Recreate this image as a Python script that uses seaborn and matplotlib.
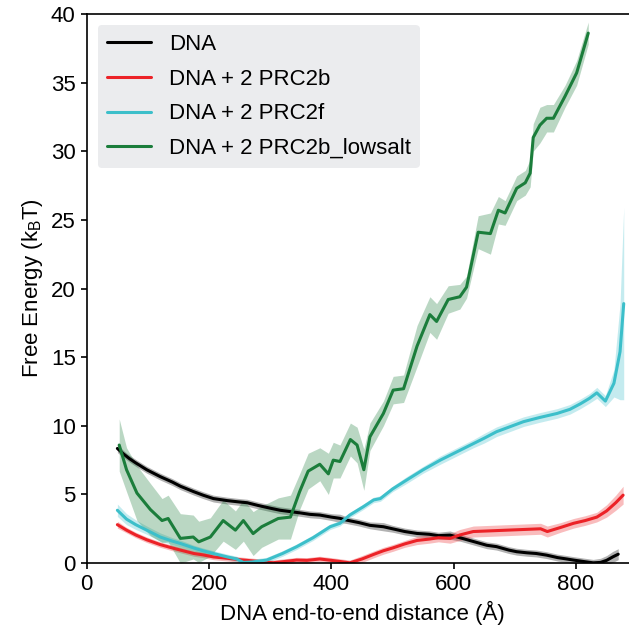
import numpy as np
import pandas as pd
import matplotlib
matplotlib.use("Agg")
import matplotlib.pyplot as plt
import seaborn as sns

# ---- data ----
dna_x = [50, 60, 70, 80, 98, 120, 140, 153, 175, 190, 207, 230, 250, 262, 280, 300, 316, 333,
         350, 365, 381, 400, 414, 425, 445, 463, 485, 500, 520, 540, 560, 575, 594, 610, 630,
         654, 670, 690, 703, 720, 735, 752, 770, 785, 796, 815, 828, 840, 850, 860, 869]
dna_y = [8.35, 7.95, 7.6, 7.3, 6.8, 6.3, 5.9, 5.6, 5.2, 4.95, 4.7, 4.55, 4.45, 4.4, 4.2, 4.0, 3.85, 3.75,
         3.65, 3.55, 3.5, 3.35, 3.26, 3.13, 2.95, 2.75, 2.65, 2.5, 2.3, 2.16, 2.1, 2.0, 2.04, 1.85, 1.6,
         1.3, 1.2, 0.95, 0.83, 0.75, 0.7, 0.58, 0.4, 0.3, 0.22, 0.1, 0.02, 0.05, 0.2, 0.45, 0.65]
dna_err = [0.3, 0.25, 0.25, 0.25, 0.25, 0.25, 0.25, 0.25, 0.25, 0.25, 0.25, 0.25, 0.25, 0.25, 0.25, 0.25, 0.25, 0.25,
           0.25, 0.25, 0.25, 0.25, 0.3, 0.25, 0.25, 0.25, 0.3, 0.25, 0.25, 0.25, 0.25, 0.25, 0.3, 0.25, 0.25,
           0.25, 0.25, 0.25, 0.25, 0.25, 0.25, 0.25, 0.25, 0.25, 0.25, 0.25, 0.25, 0.3, 0.35, 0.4, 0.4]

prc2b_x = [50, 65, 80, 98, 120, 140, 153, 175, 190, 207, 230, 250, 262, 280, 289, 305, 320, 343, 360,
           381, 400, 414, 430, 450, 470, 485, 500, 520, 540, 560, 575, 594, 610, 632, 660, 687, 715,
           742, 753, 775, 796, 815, 834, 850, 865, 877]
prc2b_y = [2.8, 2.4, 2.05, 1.7, 1.35, 1.1, 0.95, 0.7, 0.6, 0.45, 0.35, 0.25, 0.2, 0.12, 0.08, 0.03, 0.1, 0.22, 0.2,
           0.3, 0.2, 0.12, 0.02, 0.3, 0.65, 0.9, 1.1, 1.4, 1.65, 1.75, 1.85, 1.8, 2.05, 2.3, 2.35, 2.4, 2.45,
           2.5, 2.3, 2.6, 2.9, 3.1, 3.35, 3.8, 4.4, 4.95]
prc2b_err = [0.25, 0.2, 0.2, 0.2, 0.2, 0.2, 0.2, 0.2, 0.2, 0.2, 0.2, 0.2, 0.2, 0.2, 0.2, 0.2, 0.2, 0.2, 0.2,
             0.2, 0.2, 0.2, 0.2, 0.25, 0.25, 0.25, 0.25, 0.25, 0.3, 0.3, 0.3, 0.35, 0.4, 0.4, 0.4, 0.4, 0.4,
             0.4, 0.4, 0.35, 0.35, 0.35, 0.35, 0.45, 0.55, 0.65]

prc2f_x = [50, 65, 80, 98, 120, 140, 153, 175, 190, 207, 230, 245, 256, 270, 294, 320, 343, 370, 398,
           414, 430, 452, 469, 480, 500, 523, 550, 578, 605, 632, 650, 670, 690, 714, 740, 769, 790,
           807, 822, 834, 848, 862, 872, 878]
prc2f_y = [3.85, 3.2, 2.8, 2.4, 1.9, 1.6, 1.43, 1.1, 0.9, 0.7, 0.45, 0.3, 0.05, 0.08, 0.22, 0.7, 1.19, 1.85, 2.65,
           2.9, 3.5, 4.1, 4.6, 4.7, 5.4, 6.05, 6.8, 7.5, 8.1, 8.7, 9.1, 9.57, 9.9, 10.3, 10.6, 10.9, 11.2,
           11.6, 12.0, 12.4, 11.8, 13.1, 15.4, 18.9]
prc2f_err = [0.45, 0.4, 0.35, 0.3, 0.3, 0.25, 0.25, 0.2, 0.2, 0.2, 0.2, 0.2, 0.2, 0.2, 0.2, 0.2, 0.2, 0.2, 0.2,
             0.2, 0.2, 0.2, 0.2, 0.2, 0.2, 0.25, 0.25, 0.3, 0.3, 0.3, 0.35, 0.35, 0.35, 0.35, 0.35, 0.35, 0.35,
             0.35, 0.35, 0.4, 0.4, 1.0, 3.5, 7.0]

low_x = [53, 65, 82, 104, 123, 133, 153, 174, 183, 202, 223, 243, 256, 272, 286, 313, 333, 348, 362,
         381, 395, 403, 414, 431, 442, 453, 463, 485, 501, 518, 540, 561, 572, 591, 610, 621, 640,
         660, 673, 684, 703, 717, 725, 730, 741, 752, 763, 782, 801, 820]
low_y = [8.6, 6.8, 5.1, 3.9, 3.1, 3.25, 1.8, 1.9, 1.55, 1.9, 3.1, 2.4, 3.1, 2.15, 2.65, 3.25, 3.35, 5.2, 6.7,
         7.2, 6.5, 7.5, 7.4, 9.0, 8.6, 6.8, 9.2, 10.9, 12.6, 12.7, 15.8, 18.1, 17.6, 19.2, 19.4, 20.1, 24.1,
         24.0, 25.7, 25.5, 27.3, 27.7, 28.4, 31.0, 31.9, 32.4, 32.4, 34.0, 35.7, 38.6]
low_err = [1.9, 1.6, 2.0, 1.9, 1.6, 1.7, 1.8, 1.6, 1.5, 1.4, 1.5, 1.4, 1.5, 1.6, 1.5, 1.5, 1.6, 1.3, 1.3,
           1.2, 1.5, 1.3, 1.2, 1.2, 1.3, 1.5, 1.0, 0.9, 1.0, 1.0, 1.5, 1.3, 1.3, 1.0, 0.9, 0.8, 1.2,
           1.5, 1.0, 0.9, 0.9, 0.9, 1.0, 1.0, 1.3, 1.0, 1.0, 0.8, 0.9, 0.8]

labels = ["DNA", "DNA + 2 PRC2b", "DNA + 2 PRC2f", "DNA + 2 PRC2b_lowsalt"]
colors = ["#000000", "#ec2227", "#3cbfca", "#1b7d3b"]

xticks = [0, 200, 400, 600, 800]
yticks = [0, 5, 10, 15, 20, 25, 30, 35, 40]

series = [(dna_x, dna_y, dna_err), (prc2b_x, prc2b_y, prc2b_err),
          (prc2f_x, prc2f_y, prc2f_err), (low_x, low_y, low_err)]

frames = []
for lab, (xs, ys, es) in zip(labels, series):
    frames.append(pd.DataFrame({"x": xs, "y": ys, "err": es, "series": lab}))
df = pd.concat(frames, ignore_index=True)

sns.set_style("ticks")
plt.rcParams['font.family'] = ['Liberation Sans', 'DejaVu Sans']
plt.rcParams['mathtext.fontset'] = 'custom'
plt.rcParams['mathtext.rm'] = 'Liberation Sans'
plt.rcParams['text.color'] = 'black'
plt.rcParams['axes.labelcolor'] = 'black'
plt.rcParams['xtick.color'] = 'black'
plt.rcParams['ytick.color'] = 'black'
plt.rcParams['axes.edgecolor'] = 'black'

fig = plt.figure(figsize=(6.29, 6.32), dpi=100)
ax = fig.add_axes([0.138, 0.109, 0.875, 0.869])

pal = dict(zip(labels, colors))
for lab in labels:
    sub = df[df["series"] == lab]
    ax.fill_between(sub["x"], sub["y"] - sub["err"], sub["y"] + sub["err"],
                    color=pal[lab], alpha=0.3, linewidth=0)
sns.lineplot(data=df, x="x", y="y", hue="series", palette=pal, hue_order=labels,
             linewidth=2.2, ax=ax, legend=True, estimator=None, sort=True)

ax.set_xlim(0, 900)
ax.set_ylim(0, 40)
ax.set_xticks(xticks)
ax.set_yticks(yticks)
ax.tick_params(labelsize=16, length=4.5, width=1.2, direction="out", colors="black")
for sp in ax.spines.values():
    sp.set_linewidth(1.2)
    sp.set_color("black")
ax.set_xlabel("DNA end-to-end distance (Å)", fontsize=16, color="black")
ax.set_ylabel(r"Free Energy (k$_\mathrm{B}$T)", fontsize=16, color="black")

leg = ax.legend(loc="upper left", fontsize=16, frameon=True, fancybox=True,
                facecolor="#ebecee", edgecolor="none", framealpha=1.0,
                bbox_to_anchor=(0.02, 0.98), borderaxespad=0.0, labelspacing=0.62)
for line in leg.get_lines():
    line.set_linewidth(2.2)
for t in leg.get_texts():
    t.set_color("black")

fig.savefig("out.png", dpi=100)
